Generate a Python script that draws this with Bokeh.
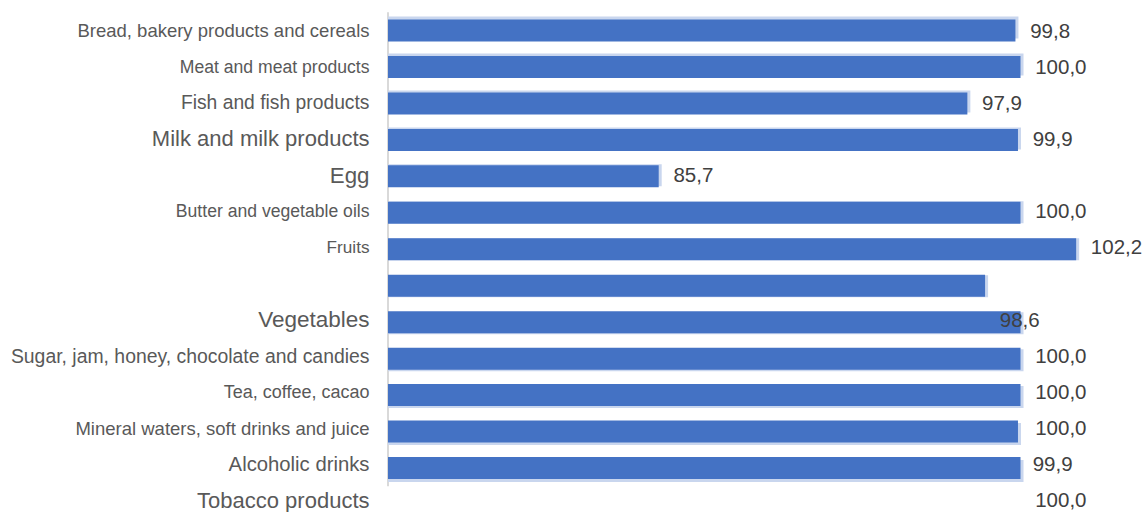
from bokeh.plotting import figure
from bokeh.models import Range1d, ColumnDataSource
from bokeh.embed import file_html
from bokeh.resources import INLINE
from bokeh.core.properties import value

# ---------------- data ----------------
categories = [
    "Bread, bakery products and cereals",
    "Meat and meat products",
    "Fish and fish products",
    "Milk and milk products",
    "Egg",
    "Butter and vegetable oils",
    "Fruits",
    "",
    "Vegetables",
    "Sugar, jam, honey, chocolate and candies",
    "Tea, coffee, cacao",
    "Mineral waters, soft drinks and juice",
    "Alcoholic drinks",
    "Tobacco products",
]
values = [99.8, 100.0, 97.9, 99.9, 85.7, 100.0, 102.2, None,
          98.6, 100.0, 100.0, 100.0, 99.9, 100.0]
axis_min = 75.0

# ---------------- styles ----------------
label_sizes = ["18.5px", "17.6px", "19.3px", "22px", "22.3px", "17.6px", "17.2px", "17px",
               "22.5px", "19.4px", "18px", "18.5px", "20.3px", "22px"]
BAR_COLOR = "#4472C4"
SHADOW_COLOR = "#c9d6ee"
AXIS_COLOR = "#d9d9d9"
CAT_COLOR = "#595959"
VAL_COLOR = "#404040"

# ---------------- geometry (pixels in the page) ----------------
W, H = 1146, 512
PX0, PY0 = 0, 0
X_BASE_PX = 387.5
PX_PER_UNIT = 25.3
BAR_ROW0_PX, BAR_STEP_PX = 30.0, 36.46
LAB_ROW0_PX, LAB_STEP_PX = 30.0, 36.15
BAR_H_PX = 22.0

x_start = axis_min - (X_BASE_PX - PX0) / PX_PER_UNIT
x_end = x_start + W / PX_PER_UNIT
r_top = (PY0 - BAR_ROW0_PX) / BAR_STEP_PX
r_bot = r_top + H / BAR_STEP_PX
l_top = (PY0 - LAB_ROW0_PX) / LAB_STEP_PX
l_bot = l_top + H / LAB_STEP_PX

p = figure(width=W, height=H, x_range=Range1d(x_start, x_end),
           y_range=Range1d(start=r_bot, end=r_top),
           output_backend="svg", toolbar_location=None,
           x_axis_location=None, y_axis_location=None, min_border=0)
p.extra_y_ranges = {"labels": Range1d(start=l_bot, end=l_top)}
p.grid.visible = False
p.outline_line_color = None
p.background_fill_color = "white"
p.border_fill_color = "white"

# bars: consecutive rows for the non-empty categories
bar_vals = [v for v in values if v is not None]
n = len(bar_vals)
rows = list(range(n))
bar_h = BAR_H_PX / BAR_STEP_PX
mid = (n - 1) / 2
shadow_rows = [r + (r - mid) / mid * 3.0 / BAR_STEP_PX for r in rows]
shadow_right = [v + 3.0 / PX_PER_UNIT for v in bar_vals]

bars = ColumnDataSource(dict(row=rows, val=bar_vals, srow=shadow_rows, sright=shadow_right))

p.segment(x0=[axis_min], x1=[axis_min], y0=[-0.5], y1=[n - 0.5],
          line_color=AXIS_COLOR, line_width=2)
p.hbar(y="srow", left=axis_min, right="sright", height=bar_h, source=bars,
       fill_color=SHADOW_COLOR, line_color=None)
p.hbar(y="row", left=axis_min, right="val", height=bar_h, source=bars,
       fill_color=BAR_COLOR, line_color=None)

# category labels
label_x = axis_min - (X_BASE_PX - 369) / PX_PER_UNIT
cats = ColumnDataSource(dict(x=[label_x] * len(categories), y=list(range(len(categories))),
                             t=categories, fs=label_sizes))
p.text(x="x", y="y", text="t", source=cats, y_range_name="labels",
       text_align="right", text_baseline="middle", text_font_size="fs",
       text_font=value("Liberation Sans"), text_color=CAT_COLOR)

# value labels
vx, vy, vt = [], [], []
for i, v in enumerate(values):
    if v is None:
        continue
    vx.append(v + 14.7 / PX_PER_UNIT)
    vy.append(i)
    vt.append(f"{v:.1f}".replace(".", ","))
vals = ColumnDataSource(dict(x=vx, y=vy, t=vt))
p.text(x="x", y="y", text="t", source=vals, y_range_name="labels",
       text_align="left", text_baseline="middle", text_font_size="20.5px",
       text_font=value("Liberation Sans"), text_color=VAL_COLOR)

open("out.html", "w").write(file_html(p, INLINE))
